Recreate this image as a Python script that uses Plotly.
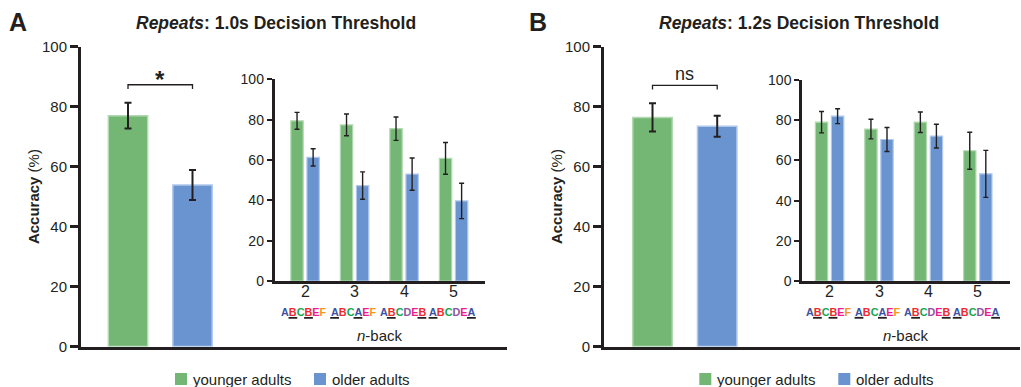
import plotly.graph_objects as go

# ---------------- data ----------------
groups = ["younger adults", "older adults"]
panel_labels = ["A", "B"]
thresholds = ["1.0s", "1.2s"]
significance = ["*", "ns"]

# overall accuracy (%) per group
a_overall_mean = [77.0, 53.9]
a_overall_err = [4.3, 5.0]
b_overall_mean = [76.4, 73.5]
b_overall_err = [4.7, 3.5]

# accuracy by n-back level
nback = ["2", "3", "4", "5"]
a_young_mean = [79.4, 77.4, 75.5, 60.8]
a_young_err = [4.2, 5.4, 5.8, 7.9]
a_old_mean = [61.3, 47.3, 53.0, 39.7]
a_old_err = [4.3, 6.8, 8.0, 8.8]
b_young_mean = [79.0, 75.6, 79.0, 64.8]
b_young_err = [5.3, 4.9, 5.1, 9.2]
b_old_mean = [82.0, 70.4, 72.1, 53.3]
b_old_err = [3.7, 6.0, 5.9, 11.7]

# example letter sequences per n-back level, with the matching positions
seq_letters = ["ABCBEF", "ABCAEF", "ABCDEB", "ABCDEA"]
seq_matches = [(1, 3), (0, 3), (1, 5), (0, 5)]
letter_colors = {"A": "#3A53A4", "B": "#EE2A2F", "C": "#12A650",
                 "D": "#8C55A3", "E": "#EC1C8C", "F": "#F7941D"}

# ---------------- style ----------------
W, H = 1021, 387
FONT = "Liberation Sans, Arial, Helvetica, sans-serif"
INK = "#231F20"
GREEN, BLUE = "#74B775", "#6A94CF"
GREEN_EDGE, BLUE_EDGE = "#B2D9B2", "#B0C8EC"
fills = [GREEN, BLUE]
edges = [GREEN_EDGE, BLUE_EDGE]
SEQ_FS = 10.8
# Arial/Liberation Sans Bold advance widths (em) for the sequence letters
BOLD_EM = {"A": 0.722, "B": 0.722, "C": 0.722, "D": 0.722,
           "E": 0.667, "F": 0.611}


def fx(px):
    return px / W


def fy(py):
    return 1 - py / H


# layout geometry (pixels) for the two panels
panels = [
    dict(main_x=(81, 507), main_c0=128.0, main_sp=64.5,
         ins_x=(274.5, 485), ins_y=(79.3, 281), ins_c0=305.2, ins_sp=49.5,
         title_x=276, label_x=18, ytitle_x=33.5, legend_dx=0,
         overall=(a_overall_mean, a_overall_err),
         young=(a_young_mean, a_young_err), old=(a_old_mean, a_old_err),
         bracket_y=87.3),
    dict(main_x=(604, 1020), main_c0=652.5, main_sp=64.7,
         ins_x=(802, 1010), ins_y=(80, 281), ins_c0=829.7, ins_sp=49.4,
         title_x=799, label_x=538, ytitle_x=556.5, legend_dx=524.3,
         overall=(b_overall_mean, b_overall_err),
         young=(b_young_mean, b_young_err), old=(b_old_mean, b_old_err),
         bracket_y=87.1),
]
MAIN_Y = (46.7, 346.5)

fig = go.Figure()
layout = dict(
    width=W, height=H, margin=dict(l=0, r=0, t=0, b=0, pad=0),
    paper_bgcolor="white", plot_bgcolor="rgba(0,0,0,0)",
    barmode="overlay", showlegend=False,
    font=dict(family=FONT, color=INK),
)
annotations = []
shapes = []

for i, p in enumerate(panels):
    mx = "x" if i == 0 else f"x{2 * i + 1}"
    my = "y" if i == 0 else f"y{2 * i + 1}"
    ix = f"x{2 * i + 2}"
    iy = f"y{2 * i + 2}"
    mxk = "xaxis" if i == 0 else f"xaxis{2 * i + 1}"
    myk = "yaxis" if i == 0 else f"yaxis{2 * i + 1}"
    ixk = f"xaxis{2 * i + 2}"
    iyk = f"yaxis{2 * i + 2}"

    # ---- main overall bars ----
    means, errs = p["overall"]
    for g in range(2):
        fig.add_trace(go.Bar(
            x=[g], y=[means[g]], width=0.61, name=groups[g],
            marker=dict(color=fills[g], line=dict(color=edges[g], width=1.5)),
            error_y=dict(type="data", array=[errs[g]], color=INK,
                         thickness=2, width=3.5),
            xaxis=mx, yaxis=my, hoverinfo="skip"))

    # ---- inset n-back bars ----
    for g, (mv, ev) in enumerate([p["young"], p["old"]]):
        fig.add_trace(go.Bar(
            x=list(range(len(nback))), y=mv, width=0.25,
            offset=-0.29 if g == 0 else 0.035, name=groups[g],
            marker=dict(color=fills[g], line=dict(color=edges[g], width=1.2)),
            error_y=dict(type="data", array=ev, color=INK,
                         thickness=1.4, width=2.5),
            xaxis=ix, yaxis=iy, hoverinfo="skip"))

    c0, sp = p["main_c0"], p["main_sp"]
    layout[mxk] = dict(
        domain=[fx(p["main_x"][0]), fx(p["main_x"][1])],
        range=[(p["main_x"][0] - c0) / sp, (p["main_x"][1] - c0) / sp],
        anchor=my, showline=True, linewidth=3, linecolor=INK,
        showticklabels=False, ticks="", showgrid=False, zeroline=False,
        automargin=False, fixedrange=True)
    layout[myk] = dict(
        domain=[fy(MAIN_Y[1]), fy(MAIN_Y[0])], range=[0, 100],
        anchor=mx, showline=True, linewidth=3, linecolor=INK,
        ticks="outside", ticklen=8, tickwidth=2.5, tickcolor=INK,
        tickvals=[0, 20, 40, 60, 80, 100],
        tickfont=dict(size=15, color=INK, family=FONT),
        showgrid=False, zeroline=False, automargin=False, fixedrange=True)

    c0, sp = p["ins_c0"], p["ins_sp"]
    layout[ixk] = dict(
        domain=[fx(p["ins_x"][0]), fx(p["ins_x"][1])],
        range=[(p["ins_x"][0] - c0) / sp, (p["ins_x"][1] - c0) / sp],
        anchor=iy, showline=True, linewidth=2.5, linecolor=INK,
        tickvals=list(range(len(nback))), showticklabels=False, ticks="",
        showgrid=False, zeroline=False, automargin=False, fixedrange=True)
    layout[iyk] = dict(
        domain=[fy(p["ins_y"][1]), fy(p["ins_y"][0])], range=[0, 100],
        anchor=ix, showline=True, linewidth=2.5, linecolor=INK,
        ticks="outside", ticklen=5, tickwidth=2, tickcolor=INK,
        tickvals=[0, 20, 40, 60, 80, 100],
        tickfont=dict(size=14, color=INK, family=FONT),
        showgrid=False, zeroline=False, automargin=False, fixedrange=True)

    # ---- significance bracket ----
    by = p["bracket_y"]
    shapes.append(dict(type="path", xref=mx, yref=my,
                       path=f"M 0,{by - 1.4} L 0,{by} L 1,{by} L 1,{by - 1.4}",
                       line=dict(color=INK, width=1.3)))
    sig = significance[i]
    annotations.append(dict(
        x=0.5, y=by, xref=mx, yref=my,
        text="<b>*</b>" if sig == "*" else sig, showarrow=False,
        xanchor="center", yanchor="bottom",
        yshift=-10 if sig == "*" else -1,
        font=dict(size=24 if sig == "*" else 18, color=INK, family=FONT)))

    # ---- titles ----
    annotations.append(dict(
        x=fx(p["label_x"]), y=fy(22), xref="paper", yref="paper",
        text=f"<b>{panel_labels[i]}</b>", showarrow=False,
        xanchor="center", yanchor="middle",
        font=dict(size=25, color=INK, family=FONT)))
    annotations.append(dict(
        x=fx(p["title_x"]), y=fy(23), xref="paper", yref="paper",
        text=f"<b><i>Repeats</i>: {thresholds[i]} Decision Threshold</b>",
        showarrow=False, xanchor="center", yanchor="middle",
        font=dict(size=17.5, color=INK, family=FONT)))
    annotations.append(dict(
        x=fx(p["ytitle_x"]), y=fy((MAIN_Y[0] + MAIN_Y[1]) / 2),
        xref="paper", yref="paper", text="<b>Accuracy</b> (%)",
        textangle=-90, showarrow=False, xanchor="center", yanchor="middle",
        font=dict(size=15, color=INK, family=FONT)))

    # ---- n-back tick labels and letter sequences under inset ----
    for k, seq in enumerate(seq_letters):
        annotations.append(dict(
            x=k, y=fy(291.5), xref=ix, yref="paper", text=nback[k],
            showarrow=False, xanchor="center", yanchor="middle",
            font=dict(size=16, color=INK, family=FONT)))
        parts = [f"<span style='color:{letter_colors[ch]}'>{ch}</span>"
                 for ch in seq]
        seq_shift = -1.5
        annotations.append(dict(
            x=k, y=fy(311.5), xref=ix, yref="paper", xshift=seq_shift,
            text="<b>" + "".join(parts) + "</b>", showarrow=False,
            xanchor="center", yanchor="middle",
            font=dict(size=SEQ_FS, color=INK, family=FONT)))
        # underline the matching letters (black bars under the letters)
        widths = [BOLD_EM[ch] * SEQ_FS for ch in seq]
        start = seq_shift - sum(widths) / 2
        for j in seq_matches[k]:
            l0 = start + sum(widths[:j])
            shapes.append(dict(
                type="line", xref=ix, yref="paper",
                x0=k + (l0 - 0.5) / sp, x1=k + (l0 + widths[j] + 0.5) / sp,
                y0=fy(317.8), y1=fy(317.8),
                line=dict(color=INK, width=1.8)))
    annotations.append(dict(
        x=0.5, y=fy(335), xref=f"{ix} domain", yref="paper",
        text="<i>n</i>-back", showarrow=False, xanchor="center",
        yanchor="middle", font=dict(size=15, color=INK, family=FONT)))

    # ---- legend ----
    dx = p["legend_dx"]
    for g, (sq0, tx0) in enumerate([(175, 190.5), (314, 329.5)]):
        shapes.append(dict(type="rect", xref="paper", yref="paper",
                           x0=fx(sq0 + dx), x1=fx(sq0 + 12 + dx),
                           y0=fy(385), y1=fy(373),
                           fillcolor=fills[g], line=dict(width=0)))
        annotations.append(dict(
            x=fx(tx0 + dx), y=fy(379.5), xref="paper", yref="paper",
            text=groups[g], showarrow=False, xanchor="left",
            yanchor="middle", font=dict(size=15, color=INK, family=FONT)))

layout["annotations"] = annotations
layout["shapes"] = shapes
fig.update_layout(**layout)
fig.write_html(
    "out.html", config={"displayModeBar": False},
    post_script="document.body.style.margin='0';"
                "document.body.style.overflow='hidden';")
